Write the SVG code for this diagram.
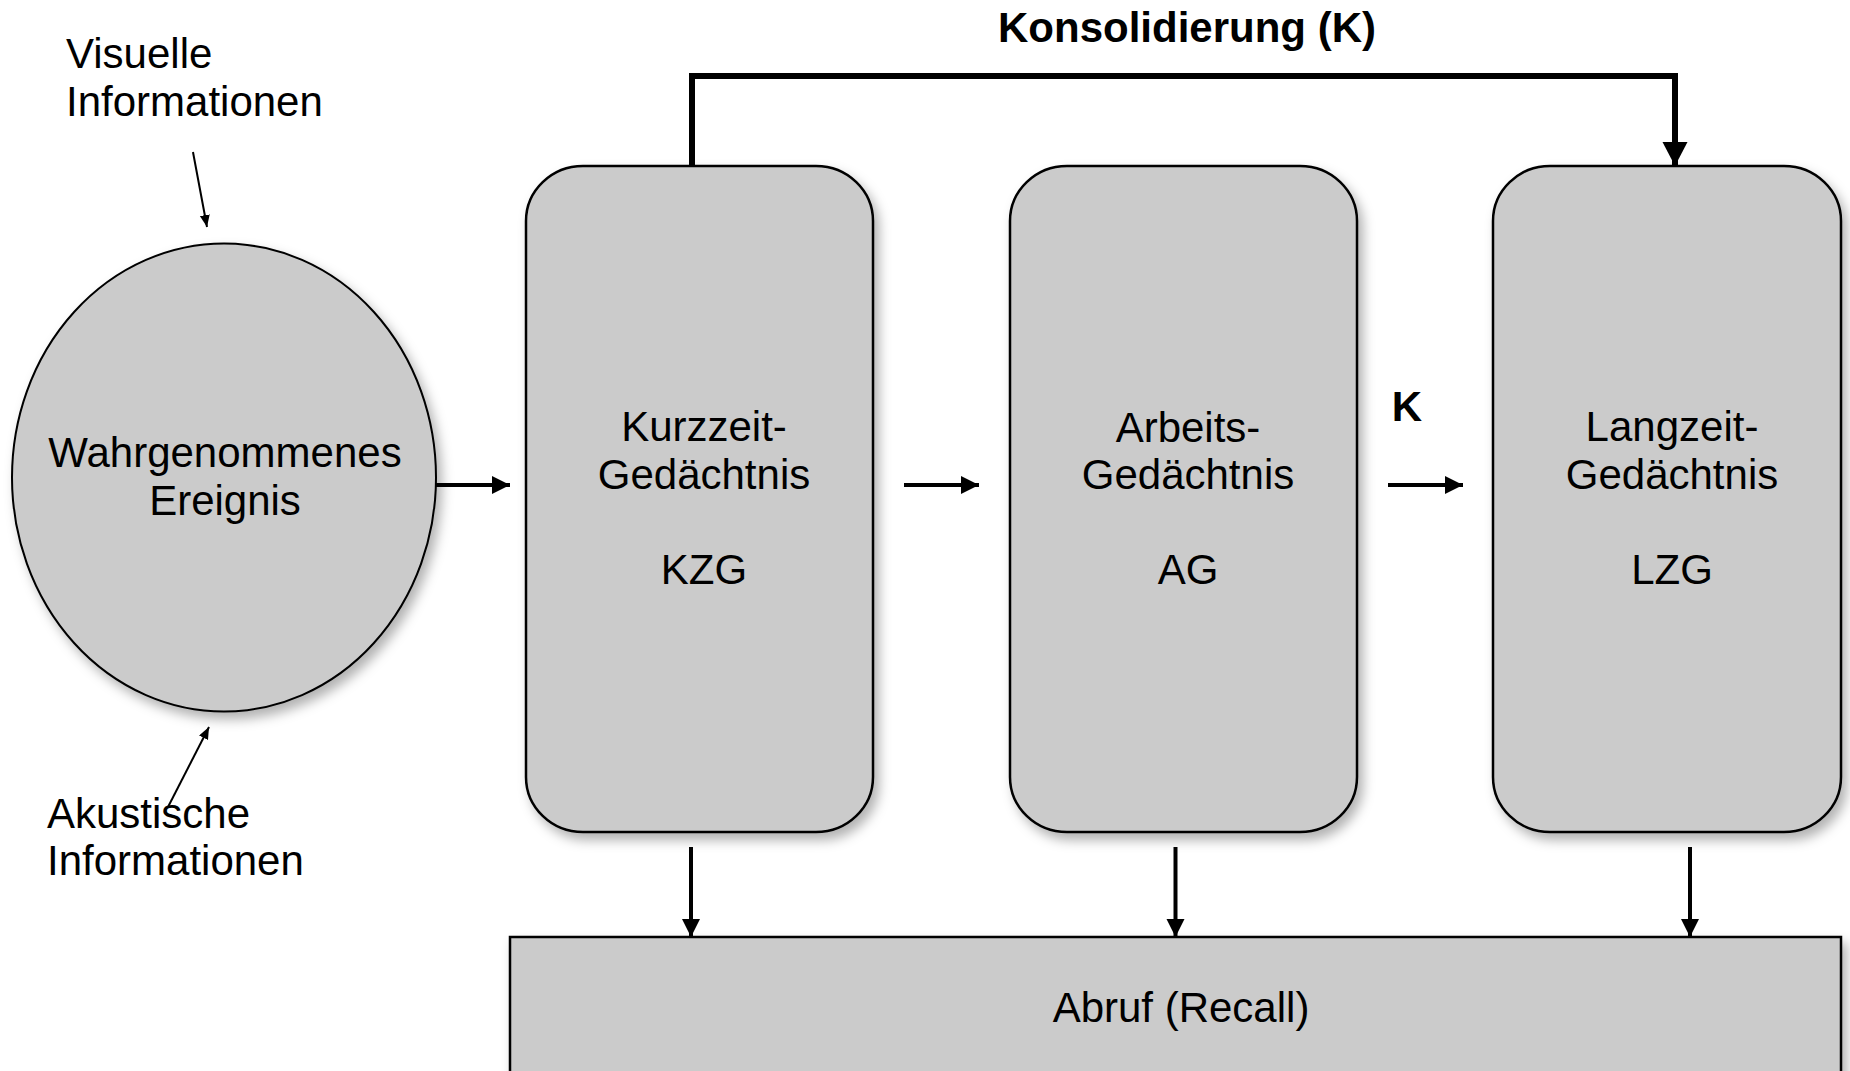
<svg xmlns="http://www.w3.org/2000/svg" width="1850" height="1071" viewBox="0 0 1850 1071">
<defs>
<style>
.node{fill:#cbcbcb;stroke:#000;stroke-width:2.5;filter:url(#sh)}
.t{font-family:"Liberation Sans",Arial,sans-serif;font-size:42px;fill:#000}
.c{text-anchor:middle}
.b{font-weight:bold}
.con{fill:none;stroke:#000;stroke-width:4}
.thin{fill:none;stroke:#000;stroke-width:2}
</style>
<filter id="sh" x="-10%" y="-10%" width="130%" height="130%">
<feDropShadow dx="5" dy="7" stdDeviation="6" flood-color="#000" flood-opacity="0.3"/>
</filter>
<marker id="ah" markerUnits="userSpaceOnUse" markerWidth="20" markerHeight="20" refX="18" refY="9" orient="auto">
<path d="M0,0 L18,9 L0,18 z" fill="#000"/>
</marker>
<marker id="ahBig" markerUnits="userSpaceOnUse" markerWidth="26" markerHeight="26" refX="24" refY="12.5" orient="auto">
<path d="M0,0 L24,12.5 L0,25 z" fill="#000"/>
</marker>
<marker id="ahS" markerUnits="userSpaceOnUse" markerWidth="14" markerHeight="12" refX="12" refY="5" orient="auto">
<path d="M0,0 L12,5 L0,10 z" fill="#000"/>
</marker>
</defs>
<rect width="1850" height="1071" fill="#fff"/>

<g id="labels">
<text class="t" x="66" y="68">Visuelle</text>
<text class="t" x="66" y="116">Informationen</text>
<text class="t b c" x="1187" y="42">Konsolidierung (K)</text>
<text class="t b c" x="1407" y="421">K</text>
</g>

<g id="ereignis">
<ellipse class="node" cx="224" cy="477.5" rx="212" ry="234" style="stroke-width:2"/>
<text class="t c" x="225" y="467">Wahrgenommenes</text>
<text class="t c" x="225" y="515">Ereignis</text>
</g>

<g id="kzg">
<rect class="node" x="526" y="166" width="347" height="666" rx="57" ry="55"/>
<text class="t c" x="704" y="441">Kurzzeit-</text>
<text class="t c" x="704" y="489">Gedächtnis</text>
<text class="t c" x="704" y="584">KZG</text>
</g>

<g id="ag">
<rect class="node" x="1010" y="166" width="347" height="666" rx="57" ry="55"/>
<text class="t c" x="1188" y="442">Arbeits-</text>
<text class="t c" x="1188" y="489">Gedächtnis</text>
<text class="t c" x="1188" y="584">AG</text>
</g>

<g id="lzg">
<rect class="node" x="1493" y="166" width="348" height="666" rx="57" ry="55"/>
<text class="t c" x="1672" y="441">Langzeit-</text>
<text class="t c" x="1672" y="489">Gedächtnis</text>
<text class="t c" x="1672" y="584">LZG</text>
</g>

<g id="abruf">
<rect class="node" x="510" y="937" width="1331" height="160" style="stroke-width:2.5"/>
<text class="t c" x="1181" y="1022">Abruf (Recall)</text>
</g>

<g id="akustisch">
<text class="t" x="47" y="828">Akustische</text>
<text class="t" x="47" y="875">Informationen</text>
</g>

<g id="connectors">
<line class="thin" x1="193" y1="152" x2="207" y2="227" marker-end="url(#ahS)"/>
<line class="thin" x1="168" y1="807" x2="209" y2="727" marker-end="url(#ahS)"/>
<line class="con" x1="436" y1="485" x2="510" y2="485" marker-end="url(#ah)"/>
<line class="con" x1="904" y1="485" x2="979" y2="485" marker-end="url(#ah)"/>
<line class="con" x1="1388" y1="485" x2="1463" y2="485" marker-end="url(#ah)"/>
<path class="con" d="M692,166 V76 H1675 V166" style="stroke-width:6" marker-end="url(#ahBig)"/>
<line class="con" x1="691" y1="847" x2="691" y2="937" marker-end="url(#ah)"/>
<line class="con" x1="1175.5" y1="847" x2="1175.5" y2="937" marker-end="url(#ah)"/>
<line class="con" x1="1690" y1="847" x2="1690" y2="937" marker-end="url(#ah)"/>
</g>
</svg>
